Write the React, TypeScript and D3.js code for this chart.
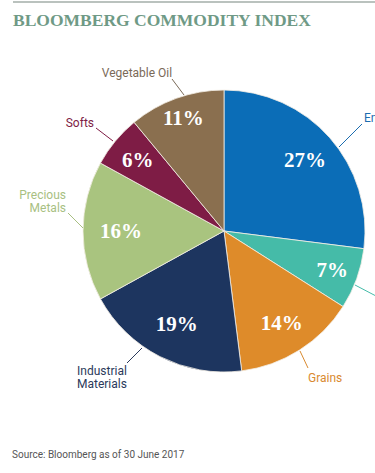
import React from "react";
import * as d3 from "d3";

const categories = ["Energy", "Livestock", "Grains", "Industrial Materials", "Precious Metals", "Softs", "Vegetable Oil"];
const values = [27, 7, 14, 19, 16, 6, 11];
const sliceColors = ["#0b6db7", "#45bba8", "#de8b2a", "#1d355f", "#a9c47f", "#7e1c45", "#8a6f4f"];
const labelColors = ["#1c6db0", "#45bba8", "#d98a30", "#2b3a5b", "#a8bf82", "#7e1c45", "#7a6a58"];

const W = 375, H = 473;
const cx = 224, cy = 231, R = 141;

// layout of the outside labels (positions of text + leader lines)
const pctRadius = [108, 115, 108, 104, 103, 112, 120];
const outside = [
  { lines: ["Energy"], x: 364, y: 122, anchor: "start", l: [[339, 147], [362, 124]] },
  { lines: [], x: 378, y: 300, anchor: "start", l: [[355, 285], [376, 296]] },
  { lines: ["Grains"], x: 308, y: 382, anchor: "start", l: [[300, 351], [308, 368]] },
  { lines: ["Industrial", "Materials"], x: 77, y: 375, anchor: "start", l: [[142, 348], [127, 363]] },
  { lines: ["Precious", "Metals"], x: 66, y: 199, anchor: "end", l: [[68, 213], [83, 228]] },
  { lines: ["Softs"], x: 94, y: 127, anchor: "end", l: [[96, 128], [113, 141]] },
  { lines: ["Vegetable Oil"], x: 137, y: 77, anchor: "middle", l: [[172, 79], [184, 95]] },
];

export default function App() {
  const pie = d3.pie<number>().sort(null).value((d) => d)(values);
  const arc = d3.arc<d3.PieArcDatum<number>>().innerRadius(0).outerRadius(R);
  const sans = "Roboto, 'Open Sans', sans-serif";
  const serif = "'Liberation Serif', 'DejaVu Serif', serif";
  return (
    <svg width={W} height={H} style={{ position: "absolute", left: 0, top: 0, background: "#fff" }}>
      <line x1={13} x2={W} y1={2} y2={2} stroke="#a3aea8" strokeWidth={1.5} />
      <text x={13} y={26} fontFamily={serif} fontWeight="bold" fontSize={17.5} fill="#6f9a86">
        BLOOMBERG COMMODITY INDEX
      </text>
      <g transform={`translate(${cx},${cy})`}>
        {pie.map((p, i) => (
          <path key={i} d={arc(p) || ""} fill={sliceColors[i]} stroke="#f4efe6" strokeWidth={0.8} />
        ))}
        {pie.map((p, i) => {
          const a = (p.startAngle + p.endAngle) / 2;
          const r = pctRadius[i];
          return (
            <text key={"t" + i} x={Math.sin(a) * r} y={-Math.cos(a) * r} dy="0.35em" textAnchor="middle"
              fontFamily={serif} fontWeight="bold" fontSize={21} fill="#fff">
              {values[i]}%
            </text>
          );
        })}
      </g>
      {outside.map((o, i) => (
        <g key={"o" + i}>
          <line x1={o.l[0][0]} y1={o.l[0][1]} x2={o.l[1][0]} y2={o.l[1][1]} stroke={labelColors[i]} strokeWidth={1} />
          {o.lines.length > 0 && (
            <text x={o.x} y={o.y} textAnchor={o.anchor as any} fontFamily={sans} fontSize={12} fill={labelColors[i]}>
              {o.lines.map((t, k) => (
                <tspan key={k} x={o.x} dy={k === 0 ? 0 : 13}>{t}</tspan>
              ))}
            </text>
          )}
        </g>
      ))}
      <text x={12} y={458} fontFamily={sans} fontSize={10} fill="#555">
        Source: Bloomberg as of 30 June 2017
      </text>
    </svg>
  );
}
